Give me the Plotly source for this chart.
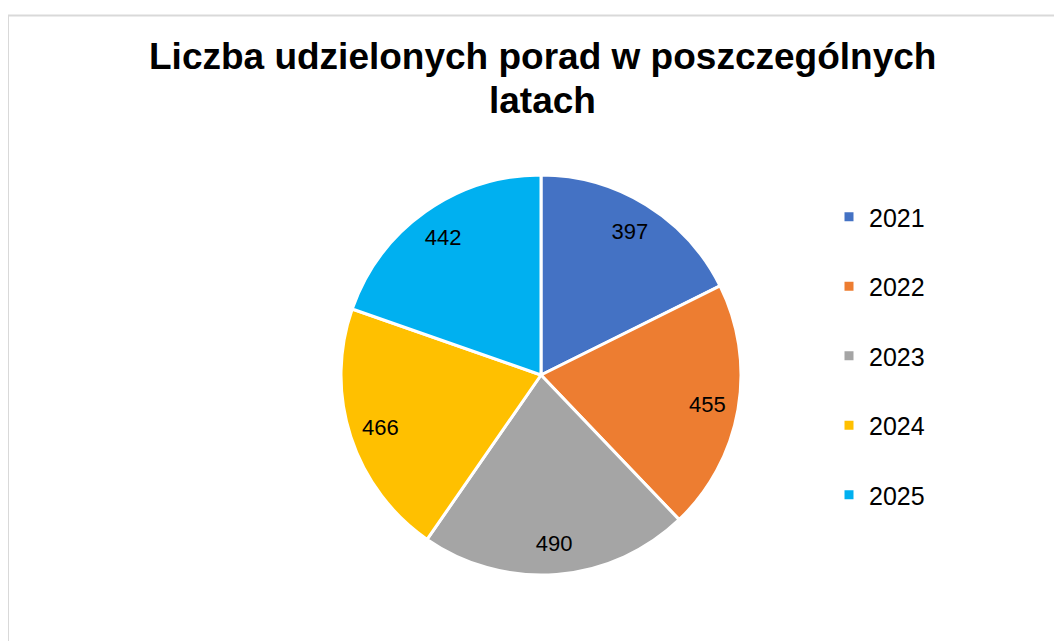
import plotly.graph_objects as go

years = ["2021", "2022", "2023", "2024", "2025"]
counts = [397, 455, 490, 466, 442]
colors = ["#4472C4", "#ED7D31", "#A5A5A5", "#FFC000", "#00B0F0"]
title_lines = ["Liczba udzielonych porad w poszczególnych", "latach"]

W, H = 1062, 641
OFF = 8  # page body margin


def px(x):
    return (x - OFF) / W


def py(y):
    return 1 - (y - OFF) / H


dom = dict(x=[px(341), px(741)], y=[py(575), py(175)])
fig = go.Figure()
# filled pie
fig.add_trace(go.Pie(
    labels=years, values=counts, sort=False, direction="clockwise", rotation=0,
    marker=dict(colors=colors, line=dict(color="white", width=3)),
    textinfo="none", domain=dom, showlegend=False, hoverinfo="label+value",
))
# transparent ring carrying the value labels near the rim
fig.add_trace(go.Pie(
    labels=years, values=counts, sort=False, direction="clockwise", rotation=0, hole=0.69,
    marker=dict(colors=["rgba(0,0,0,0)"] * len(years), line=dict(width=0)),
    textinfo="value", textposition="inside", insidetextorientation="horizontal",
    textfont=dict(family="Liberation Sans, Arial", size=22, color="black"),
    domain=dom, showlegend=False, hoverinfo="skip",
))
for yr, c in zip(years, colors):
    fig.add_trace(go.Scatter(
        x=[None], y=[None], mode="markers", name=yr, legendgroup=yr,
        marker=dict(symbol="square", size=9, color=c),
    ))

title_ann = [dict(text="<b>" + line + "</b>", xref="paper", yref="paper",
                  x=px(542), xanchor="center", y=py(yc), yanchor="middle", showarrow=False,
                  font=dict(family="Liberation Sans, Arial", size=37, color="black"))
             for line, yc in zip(title_lines, [57, 100])]

fig.update_layout(
    width=W, height=H,
    margin=dict(l=0, r=0, t=0, b=0),
    paper_bgcolor="white", plot_bgcolor="white",
    xaxis=dict(visible=False), yaxis=dict(visible=False),
    annotations=title_ann,
    legend=dict(x=px(829), xanchor="left", y=py(194), yanchor="top",
                font=dict(family="Liberation Sans, Arial", size=25, color="black"),
                tracegroupgap=34, itemwidth=30, bgcolor="rgba(0,0,0,0)"),
    shapes=[dict(type="rect", xref="paper", yref="paper", x0=px(8), x1=1.2, y0=-0.2, y1=py(15.5),
                 line=dict(color="#D9D9D9", width=2), fillcolor="rgba(0,0,0,0)", layer="below")],
)
fig.write_html("out.html")
